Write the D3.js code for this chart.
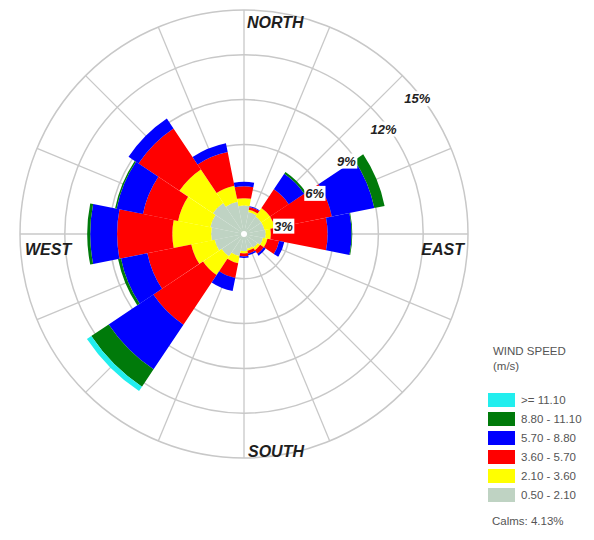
<!DOCTYPE html>
<html>
<head>
<meta charset="utf-8">
<script src="https://cdn.jsdelivr.net/npm/d3@7"></script>
<style>
  html, body { margin: 0; padding: 0; background: #fff; }
  svg { display: block; }
</style>
</head>
<body>
<svg id="chart" width="594" height="540"></svg>
<script>
// ---------- DATA ----------
const directions = ["N","NNE","NE","ENE","E","ESE","SE","SSE","S","SSW","SW","WSW","W","WNW","NW","NNW"];
// frequency (%) per speed class, per direction (order of directions above)
const class050_210 = [1.9, 1.5, 1.4, 1.4, 1.45, 1.3, 1.1, 1.0, 1.15, 1.5, 1.8, 2.0, 2.2, 2.3, 2.5, 2.2];
const class210_360 = [0.5, 0.15, 0.7, 0.7, 0.35, 0.3, 0.2, 0.15, 0.15, 0.5, 1.5, 1.6, 2.6, 2.2, 2.7, 1.1];
const class360_570 = [0.8, 0.2, 1.5, 3.9, 3.8, 0.8, 0.3, 0.2, 0.2, 1.0, 4.0, 3.0, 3.7, 2.4, 3.3, 2.3];
const class570_880 = [0.3, 0.05, 1.25, 2.9, 1.6, 0.35, 0.15, 0.1, 0.1, 0.9, 3.6, 1.8, 1.8, 1.8, 0.8, 0.6];
const class880_1110 = [0, 0, 0.15, 0.7, 0.05, 0, 0, 0, 0, 0, 1.4, 0.2, 0.2, 0.1, 0, 0];
const class1110 = [0, 0, 0, 0, 0, 0, 0, 0, 0, 0, 0.35, 0, 0, 0, 0, 0];
const classKeys = ["c050", "c210", "c360", "c570", "c880", "c1110"];   // inner -> outer
const legendLabels = [">= 11.10", "8.80 - 11.10", "5.70 - 8.80", "3.60 - 5.70", "2.10 - 3.60", "0.50 - 2.10"];
const ringTicks = [3, 6, 9, 12, 15];
const cardinalLabels = ["NORTH", "EAST", "SOUTH", "WEST"];
const calmsPct = 4.13;

// ---------- STYLE ----------
const classColors = ["#bfd3c3", "#ffff00", "#ff0000", "#0000ff", "#007a0a", "#22eeee"];

// ---------- LAYOUT ----------
const svg = d3.select("#chart");
const cx = 244, cy = 234, R = 224;
const r = d3.scaleLinear().domain([0, 15]).range([0, R]);
const sector = 2 * Math.PI / directions.length;
const ang = d3.scaleBand().domain(directions).range([-sector / 2, 2 * Math.PI - sector / 2]);

const rows = directions.map((d, i) => ({
  dir: d,
  c050: class050_210[i], c210: class210_360[i], c360: class360_570[i],
  c570: class570_880[i], c880: class880_1110[i], c1110: class1110[i]
}));
const stacked = d3.stack().keys(classKeys)(rows);

const g = svg.append("g").attr("transform", `translate(${cx},${cy})`);

// grid: radial lines
const gridColor = "#c8c8c8";
g.append("g").selectAll("line").data(directions).join("line")
  .attr("x1", 0).attr("y1", 0)
  .attr("x2", d => R * Math.sin(ang(d) + sector / 2))
  .attr("y2", d => -R * Math.cos(ang(d) + sector / 2))
  .attr("stroke", gridColor).attr("stroke-width", 1.3);

// grid: rings
g.append("g").selectAll("circle").data(ringTicks).join("circle")
  .attr("r", d => r(d)).attr("fill", "none")
  .attr("stroke", gridColor).attr("stroke-width", 1.5);

// bars
const arc = d3.arc();
g.append("g").selectAll("g").data(stacked).join("g")
  .attr("fill", (s, i) => classColors[i])
  .selectAll("path").data(s => s).join("path")
  .attr("d", d => {
    if (d[1] - d[0] <= 0) return null;
    const a0 = ang(d.data.dir);
    return arc({ innerRadius: r(d[0]), outerRadius: r(d[1]), startAngle: a0, endAngle: a0 + sector });
  });

// calm centre dot
g.append("circle").attr("r", 3).attr("fill", "#fff");

// ring labels (placement: angle above east, inset from ring)
const labelFont = "'Liberation Sans', Arial, sans-serif";
const ringLabelAngle = { 3: 11.5, 6: 30, 9: 35.5, 12: 37, 15: 38 };
const ringLabelInset = { 3: 4.5, 6: 8, 9: 8.5, 12: 4.5, 15: 4 };
const ringLab = g.append("g").selectAll("g").data(ringTicks).join("g")
  .attr("transform", d => {
    const a = ringLabelAngle[d] * Math.PI / 180;
    const rr = r(d) - ringLabelInset[d];
    return `translate(${rr * Math.cos(a)},${-rr * Math.sin(a)})`;
  });
ringLab.append("text")
  .attr("text-anchor", "middle").attr("dy", "0.36em")
  .attr("font-family", labelFont).attr("font-weight", "bold").attr("font-style", "italic")
  .attr("font-size", 13).attr("fill", "#222")
  .text(d => d + "%");
ringLab.each(function () {
  const t = d3.select(this).select("text").node().getBBox();
  d3.select(this).insert("rect", "text")
    .attr("x", t.x - 1).attr("y", t.y).attr("width", t.width + 2).attr("height", t.height)
    .attr("fill", "#fff");
});

// cardinal labels
const cardAttrs = [
  { x: 3, y: -R + 18, anchor: "start" },
  { x: R - 4, y: 21, anchor: "end" },
  { x: 4, y: R - 1, anchor: "start" },
  { x: -R + 5, y: 21, anchor: "start" }
];
g.append("g").selectAll("text").data(cardinalLabels).join("text")
  .attr("x", (d, i) => cardAttrs[i].x).attr("y", (d, i) => cardAttrs[i].y)
  .attr("text-anchor", (d, i) => cardAttrs[i].anchor)
  .attr("font-family", labelFont).attr("font-weight", "bold").attr("font-style", "italic")
  .attr("font-size", 16).attr("fill", "#1e1e1e")
  .text(d => d);

// legend
const lg = svg.append("g").attr("transform", "translate(488,0)");
const legFont = "'Liberation Sans', Arial, sans-serif";
lg.append("text").attr("x", 5).attr("y", 355).attr("font-family", legFont)
  .attr("font-size", 11.5).attr("fill", "#555").text("WIND SPEED");
lg.append("text").attr("x", 5).attr("y", 370).attr("font-family", legFont)
  .attr("font-size", 11.5).attr("fill", "#555").text("(m/s)");
const legY = d3.scalePoint().domain(legendLabels).range([393, 488]);
const legColors = classColors.slice().reverse();
lg.selectAll("rect.sw").data(legendLabels).join("rect").attr("class", "sw")
  .attr("x", 0).attr("y", d => legY(d)).attr("width", 27).attr("height", 14)
  .attr("fill", (d, i) => legColors[i]);
lg.selectAll("text.lab").data(legendLabels).join("text").attr("class", "lab")
  .attr("x", 33).attr("y", d => legY(d) + 11)
  .attr("font-family", legFont).attr("font-size", 11.5).attr("fill", "#555")
  .text(d => d);
lg.append("text").attr("x", 4).attr("y", 525).attr("font-family", legFont)
  .attr("font-size", 11.5).attr("fill", "#555").text("Calms: " + calmsPct.toFixed(2) + "%");
</script>
</body>
</html>
